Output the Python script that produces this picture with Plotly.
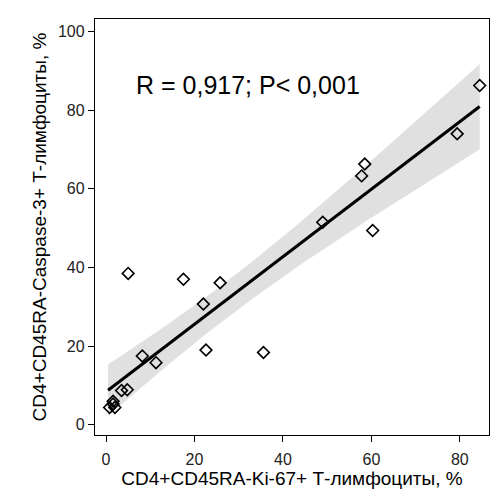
import numpy as np
import plotly.graph_objects as go

# Data
ki67 = [84.5, 79.4, 58.5, 57.8, 60.3, 49.0, 35.6, 25.8, 22.0, 22.6,
        17.5, 11.3, 8.2, 5.0, 4.8, 3.5, 2.0, 1.6, 1.6, 0.8]
caspase = [86.3, 74.0, 66.3, 63.3, 49.4, 51.5, 18.4, 36.1, 30.7, 19.0,
           37.0, 15.8, 17.5, 38.5, 8.9, 8.7, 4.4, 5.3, 6.0, 4.4]
x_ticks = [0, 20, 40, 60, 80]
y_ticks = [0, 20, 40, 60, 80, 100]
stat_text = "R = 0,917; P< 0,001"

x = np.array(ki67)
y = np.array(caspase)
n = len(x)
slope, intercept = np.polyfit(x, y, 1)
xs = np.linspace(0.45, x.max(), 100)
yfit = intercept + slope * xs
resid = y - (intercept + slope * x)
s = np.sqrt(np.sum(resid ** 2) / (n - 2))
sxx = np.sum((x - x.mean()) ** 2)
tval = 2.101
half = tval * s * np.sqrt(1 / n + (xs - x.mean()) ** 2 / sxx)

FONT = "Liberation Sans, Arial"

fig = go.Figure()
fig.add_trace(go.Scatter(
    x=np.concatenate([xs, xs[::-1]]),
    y=np.concatenate([yfit + half, (yfit - half)[::-1]]),
    fill="toself", fillcolor="rgb(224,224,224)", line=dict(width=0),
    mode="lines", hoverinfo="skip", showlegend=False))
fig.add_trace(go.Scatter(x=xs, y=yfit, mode="lines",
                         line=dict(color="black", width=3), showlegend=False))
fig.add_trace(go.Scatter(x=ki67, y=caspase, mode="markers",
                         marker=dict(symbol="diamond-open", size=9,
                                     color="black", line=dict(width=1.6)),
                         showlegend=False))

fig.add_annotation(x=0.10, y=0.841, xref="paper", yref="paper",
                   text=stat_text, showarrow=False, xanchor="left",
                   yanchor="middle",
                   font=dict(family=FONT, size=25, color="black"))

axis_common = dict(showgrid=False, zeroline=False, showline=True,
                   linecolor="black", linewidth=1.4, mirror=True,
                   ticks="outside", ticklen=6, tickcolor="black", tickwidth=1,
                   tickfont=dict(family=FONT, size=16, color="#222"))

fig.update_layout(
    width=501, height=502,
    margin=dict(l=95, r=12, t=19, b=67),
    plot_bgcolor="white", paper_bgcolor="white",
    xaxis=dict(range=[-2.5, 86.6], tickvals=x_ticks, ticklabelstandoff=4,
               title=dict(text="CD4+CD45RA-Ki-67+ Т-лимфоциты, %",
                          font=dict(family=FONT, size=19, color="black"),
                          standoff=4),
               **axis_common),
    yaxis=dict(range=[-2.6, 103.2], tickvals=y_ticks,
               title=dict(text="CD4+CD45RA-Caspase-3+ Т-лимфоциты, %",
                          font=dict(family=FONT, size=19, color="black"),
                          standoff=6),
               **axis_common),
)

fig.write_html("out.html")
